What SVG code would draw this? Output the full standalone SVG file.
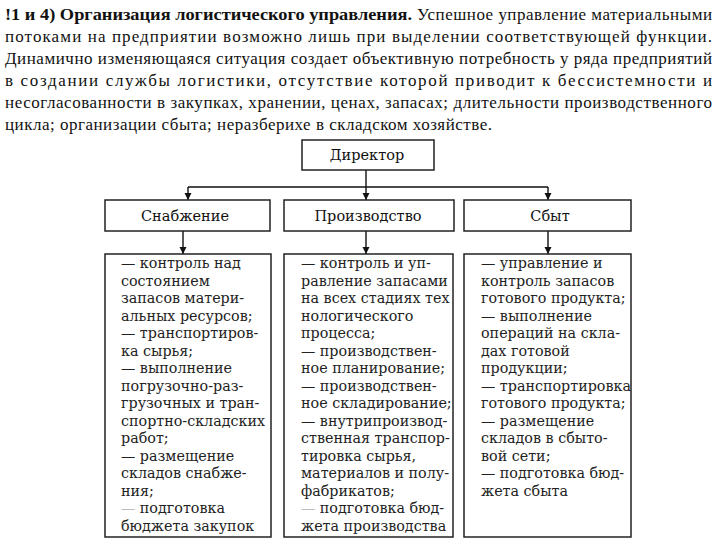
<svg xmlns="http://www.w3.org/2000/svg" width="720" height="540" viewBox="0 0 720 540">
<defs>
<style>
.para{font-family:"Liberation Serif","Times New Roman",serif;font-size:17px;fill:#111}
.b{font-weight:bold}
.box{fill:#fff;stroke:#222;stroke-width:1.5}
.lbl{font-family:"DejaVu Serif",serif;font-size:14.5px;fill:#111;text-anchor:middle}
.col{font-family:"DejaVu Serif",serif;font-size:14.3px;fill:#222}
.conn{stroke:#111;stroke-width:1.4;fill:none}
</style>
<marker id="ah" viewBox="0 0 10 10" refX="10" refY="5" markerWidth="7" markerHeight="8" markerUnits="userSpaceOnUse" orient="auto">
<path d="M0,0 L10,5 L0,10 Z" fill="#111"/>
</marker>
</defs>
<rect width="720" height="540" fill="#fff"/>
<g id="paragraph">
<text class="para b" x="5" y="20" textLength="407" lengthAdjust="spacingAndGlyphs">!1 и 4) Организация логистического управления.</text>
<text class="para" x="417" y="20" textLength="295" lengthAdjust="spacing">Успешное управление материальными</text>
<text class="para" x="5" y="42" textLength="707" lengthAdjust="spacing">потоками на предприятии возможно лишь при выделении соответствующей функции.</text>
<text class="para" x="5" y="64" textLength="707" lengthAdjust="spacing">Динамично изменяющаяся ситуация создает объективную потребность у ряда предприятий</text>
<text class="para" x="5" y="86" textLength="707" lengthAdjust="spacing">в создании службы логистики, отсутствие которой приводит к бессистемности и</text>
<text class="para" x="5" y="108" textLength="707" lengthAdjust="spacing">несогласованности в закупках, хранении, ценах, запасах; длительности производственного</text>
<text class="para" x="5" y="130" textLength="487" lengthAdjust="spacing">цикла; организации сбыта; неразберихе в складском хозяйстве.</text>
</g>
<g id="connectors">
<line class="conn" x1="366" y1="170" x2="366" y2="187"/>
<line class="conn" x1="188" y1="187" x2="548" y2="187"/>
<line class="conn" x1="188" y1="187" x2="188" y2="200" marker-end="url(#ah)"/>
<line class="conn" x1="366" y1="187" x2="366" y2="200" marker-end="url(#ah)"/>
<line class="conn" x1="548" y1="187" x2="548" y2="200" marker-end="url(#ah)"/>
<line class="conn" x1="183" y1="231" x2="183" y2="254" marker-end="url(#ah)"/>
<line class="conn" x1="366" y1="231" x2="366" y2="254" marker-end="url(#ah)"/>
<line class="conn" x1="548" y1="231" x2="548" y2="254" marker-end="url(#ah)"/>
</g>
<g id="director">
<rect class="box" x="302" y="140" width="132" height="30"/>
<text class="lbl" x="367" y="160">Директор</text>
</g>
<g id="supply">
<rect class="box" x="105" y="200" width="165" height="31"/>
<text class="lbl" x="185" y="221">Снабжение</text>
</g>
<g id="production">
<rect class="box" x="284" y="200" width="170" height="31"/>
<text class="lbl" x="368" y="221">Производство</text>
</g>
<g id="sales">
<rect class="box" x="464" y="200" width="167" height="31"/>
<text class="lbl" x="550" y="221">Сбыт</text>
</g>
<g id="supply-tasks">
<rect class="box" x="105" y="254" width="166" height="283"/>
<text class="col" x="121" y="268">— контроль над</text>
<text class="col" x="121" y="285.5">состоянием</text>
<text class="col" x="121" y="303">запасов матери-</text>
<text class="col" x="121" y="320.5">альных ресурсов;</text>
<text class="col" x="121" y="338">— транспортиров-</text>
<text class="col" x="121" y="355.5">ка сырья;</text>
<text class="col" x="121" y="373">— выполнение</text>
<text class="col" x="121" y="390.5">погрузочно-раз-</text>
<text class="col" x="121" y="408">грузочных и  тран-</text>
<text class="col" x="121" y="425.5">спортно-складских</text>
<text class="col" x="121" y="443">работ;</text>
<text class="col" x="121" y="460.5">— размещение</text>
<text class="col" x="121" y="478">складов снабже-</text>
<text class="col" x="121" y="495.5">ния;</text>
<text class="col" x="121" y="513"><tspan fill="#bbb">—</tspan> подготовка</text>
<text class="col" x="121" y="530.5">бюджета закупок</text>
</g>
<g id="production-tasks">
<rect class="box" x="284" y="254" width="169" height="283"/>
<text class="col" x="301" y="268">— контроль и уп-</text>
<text class="col" x="301" y="285.5">равление запасами</text>
<text class="col" x="301" y="303">на всех стадиях тех</text>
<text class="col" x="301" y="320.5">нологического</text>
<text class="col" x="301" y="338">процесса;</text>
<text class="col" x="301" y="355.5">— производствен-</text>
<text class="col" x="301" y="373">ное планирование;</text>
<text class="col" x="301" y="390.5">— производствен-</text>
<text class="col" x="301" y="408">ное складирование;</text>
<text class="col" x="301" y="425.5">— внутрипроизвод-</text>
<text class="col" x="301" y="443">ственная транспор-</text>
<text class="col" x="301" y="460.5">тировка сырья,</text>
<text class="col" x="301" y="478">материалов и  полу-</text>
<text class="col" x="301" y="495.5">фабрикатов;</text>
<text class="col" x="301" y="513"><tspan fill="#bbb">—</tspan> подготовка бюд-</text>
<text class="col" x="301" y="530.5">жета производства</text>
</g>
<g id="sales-tasks">
<rect class="box" x="464" y="254" width="167" height="283"/>
<text class="col" x="481" y="268">— управление и</text>
<text class="col" x="481" y="285.5">контроль запасов</text>
<text class="col" x="481" y="303">готового продукта;</text>
<text class="col" x="481" y="320.5">— выполнение</text>
<text class="col" x="481" y="338">операций на скла-</text>
<text class="col" x="481" y="355.5">дах готовой</text>
<text class="col" x="481" y="373">продукции;</text>
<text class="col" x="481" y="390.5">— транспортировка</text>
<text class="col" x="481" y="408">готового продукта;</text>
<text class="col" x="481" y="425.5">— размещение</text>
<text class="col" x="481" y="443">складов в сбыто-</text>
<text class="col" x="481" y="460.5">вой сети;</text>
<text class="col" x="481" y="478">— подготовка бюд-</text>
<text class="col" x="481" y="495.5">жета сбыта</text>
</g>
</svg>
